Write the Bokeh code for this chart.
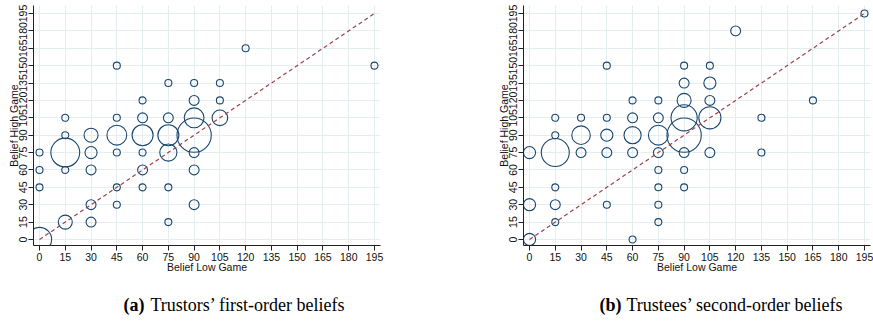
import numpy as np
from bokeh.plotting import figure
from bokeh.models import FixedTicker, ColumnDataSource, Range1d
from bokeh.layouts import row, column
from bokeh.embed import file_html
from bokeh.resources import INLINE

ticks = list(range(0, 196, 15))
x_title = "Belief Low Game"
y_title = "Belief High Game"

# Panel (a): Trustors' first-order beliefs  (low-game belief, high-game belief, count)
a_low = [0, 0, 0, 0,
         15, 15, 15, 15, 15,
         30, 30, 30, 30, 30,
         45, 45, 45, 45, 45, 45,
         60, 60, 60, 60, 60, 60,
         75, 75, 75, 75, 75, 75,
         90, 90, 90, 90, 90, 90, 90,
         105, 105, 105,
         120, 195]
a_high = [0, 45, 60, 75,
          15, 60, 75, 90, 105,
          15, 30, 60, 75, 90,
          30, 45, 75, 90, 105, 150,
          45, 60, 75, 90, 105, 120,
          15, 45, 75, 90, 105, 135,
          30, 60, 75, 90, 105, 120, 135,
          105, 120, 135,
          165, 150]
a_n = [12, 1, 1, 1,
       4, 1, 17, 1, 1,
       2, 2, 2, 3, 4,
       1, 1, 1, 8, 1, 1,
       1, 2, 1, 9, 2, 1,
       1, 1, 6, 9, 2, 1,
       2, 2, 2, 24, 8, 2, 1,
       5, 1, 1,
       1, 1]

# Panel (b): Trustees' second-order beliefs
b_low = [0, 0, 0,
         15, 15, 15, 15, 15, 15,
         30, 30, 30,
         45, 45, 45, 45, 45,
         60, 60, 60, 60, 60,
         75, 75, 75, 75, 75, 75, 75, 75,
         90, 90, 90, 90, 90, 90, 90, 90,
         105, 105, 105, 105, 105,
         120, 135, 135, 165, 195]
b_high = [0, 30, 75,
          15, 30, 45, 75, 90, 105,
          75, 90, 105,
          30, 75, 90, 105, 150,
          0, 75, 90, 105, 120,
          15, 30, 45, 60, 75, 90, 105, 120,
          45, 60, 75, 90, 105, 120, 135, 150,
          75, 105, 120, 135, 150,
          180, 75, 105, 120, 195]
b_n = [3, 3, 3,
       1, 2, 1, 16, 1, 1,
       2, 7, 1,
       1, 2, 3, 1, 1,
       1, 2, 6, 2, 1,
       1, 1, 1, 1, 2, 8, 2, 1,
       1, 1, 2, 24, 14, 4, 2, 1,
       2, 10, 2, 3, 1,
       2, 1, 1, 1, 1]

captions = [("(a)", "Trustors\u2019 first-order beliefs"),
            ("(b)", "Trustees\u2019 second-order beliefs")]

NAVY = "#1a476f"
MAROON = "#a0414b"
GRID = "#e4eef0"
SANS = "Liberation Sans"
SERIF = "Liberation Serif"
PANEL_H = 280
CAP_H = 41


def panel(low, high, n, left, fw, right):
    p = figure(frame_width=fw, frame_height=240,
               min_border_left=left, min_border_right=right,
               min_border_top=5, min_border_bottom=PANEL_H - 245,
               x_range=Range1d(-3.5, 198.5), y_range=Range1d(-5.2, 201.9),
               output_backend="svg", toolbar_location=None,
               background_fill_color="white", border_fill_color="white")
    p.outline_line_color = None
    for ax in (p.xaxis, p.yaxis):
        ax.ticker = FixedTicker(ticks=ticks)
        ax.major_tick_out = 5
        ax.major_tick_in = 0
        ax.minor_tick_line_color = None
        ax.axis_line_color = "#222222"
        ax.major_tick_line_color = "#222222"
        ax.major_label_text_font = SANS
        ax.major_label_text_font_size = "10.5px"
        ax.major_label_text_color = "#111111"
        ax.axis_label_text_font = SANS
        ax.axis_label_text_font_size = "10.5px"
        ax.axis_label_text_font_style = "normal"
        ax.axis_label_text_color = "#111111"
        ax.axis_label_standoff = -3
    p.xaxis.major_label_standoff = 2
    p.yaxis.major_label_standoff = 1
    p.xaxis.axis_label = x_title
    p.yaxis.axis_label = y_title
    p.yaxis.major_label_orientation = "vertical"
    p.grid.grid_line_color = GRID
    p.grid.grid_line_width = 1

    src = ColumnDataSource(dict(x=low, y=high, n=n,
                                d=[7.0 * np.sqrt(v) for v in n]))
    p.scatter("x", "y", size="d", source=src, marker="circle",
              fill_color=None, line_color=NAVY, line_width=1.1)
    diag = [ticks[0], ticks[-1]]
    p.line(diag, diag, line_color=MAROON, line_width=1.2, line_dash="4 3")
    return p


def caption(cap, left, fw, right, cap_x, gap):
    # frame aligned with the panel above; x data units = pixels from panel's left edge
    c = figure(frame_width=fw, frame_height=CAP_H,
               min_border_left=left, min_border_right=right,
               min_border_top=0, min_border_bottom=0,
               x_range=Range1d(left, left + fw), y_range=Range1d(0, CAP_H),
               x_axis_type=None, y_axis_type=None,
               output_backend="svg", toolbar_location=None,
               background_fill_color="white", border_fill_color="white")
    c.outline_line_color = None
    c.grid.visible = False
    c.text(x=[cap_x], y=[CAP_H / 2 - 4], text=[cap[0]], text_font=SERIF,
           text_font_size="18px", text_font_style="bold", text_align="left",
           text_baseline="middle", text_color="black")
    c.text(x=[cap_x + gap], y=[CAP_H / 2 - 4], text=[cap[1]], text_font=SERIF,
           text_font_size="18px", text_align="left", text_baseline="middle",
           text_color="black")
    return c


pa = panel(a_low, a_high, a_n, 33, 347, 56)
pb = panel(b_low, b_high, b_n, 87, 347, 3)
ca = caption(captions[0], 33, 347, 56, 123, 27)
cb = caption(captions[1], 87, 347, 3, 163, 27)

layout = row(column(pa, ca), column(pb, cb))
open("out.html", "w").write(file_html(layout, INLINE))
